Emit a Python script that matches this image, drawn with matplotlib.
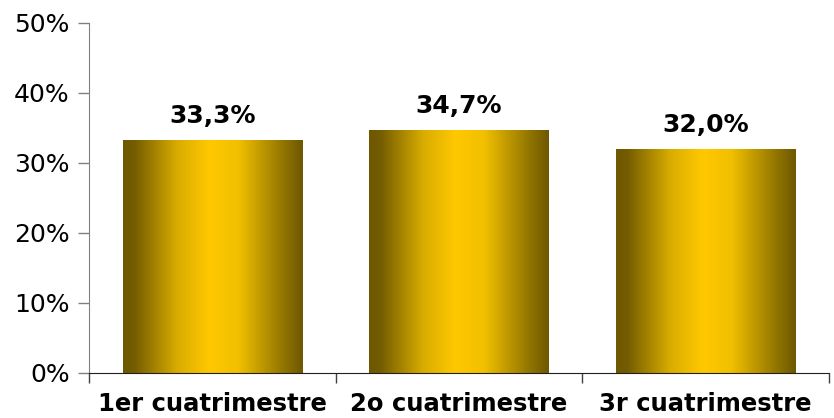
import matplotlib
matplotlib.use("Agg")
import matplotlib.pyplot as plt
import numpy as np
from matplotlib.colors import LinearSegmentedColormap
from matplotlib.ticker import FuncFormatter

# data
categories = ["1er cuatrimestre", "2o cuatrimestre", "3r cuatrimestre"]
values = [33.3, 34.7, 32.0]
value_labels = ["33,3%", "34,7%", "32,0%"]

plt.rcParams['font.family'] = ['DejaVu Sans']

fig = plt.figure(figsize=(8.34, 4.18), dpi=100)
ax = fig.add_axes([89 / 834, 45 / 418, 740 / 834, 350 / 418])

# gradient: dark olive at the sides, gold in the middle
gold = LinearSegmentedColormap.from_list(
    "gold", [(0.0, "#6e5800"), (0.06, "#735c00"), (0.3, "#d8ac00"),
             (0.48, "#ffc800"), (0.64, "#f2c000"), (0.9, "#8f7300"),
             (1.0, "#6e5800")])
grad = np.linspace(0, 1, 256).reshape(1, -1)

x = np.arange(len(categories))
bars = ax.bar(x, values, width=0.726, color="none", edgecolor="none")
for b in bars:
    im = ax.imshow(grad, cmap=gold, aspect="auto", interpolation="bicubic",
                   extent=[b.get_x(), b.get_x() + b.get_width(), 0, b.get_height()],
                   zorder=2)
    im.set_clip_path(b)

for xi, v, lab in zip(x, values, value_labels):
    ax.text(xi, v + 1.7, lab, ha="center", va="bottom",
            fontsize=18, fontweight="bold", color="black")

ax.set_xlim(-0.5, len(categories) - 0.5)
ax.set_ylim(0, 50)
ax.set_yticks(np.arange(0, 51, 10))
ax.yaxis.set_major_formatter(FuncFormatter(lambda v, p: f"{v:.0f}%"))
ax.tick_params(axis="y", labelsize=18, length=8, width=1, color="#808080", pad=6)

# category ticks sit between the bars
ax.set_xticks(x)
ax.set_xticklabels(categories, fontsize=17.5, fontweight="bold")
ax.set_xticks(np.arange(-0.5, len(categories) + 0.5, 1), minor=True)
ax.tick_params(axis="x", which="major", length=0, pad=14)
ax.tick_params(axis="x", which="minor", length=7, width=1, color="#404040")

for s in ["top", "right"]:
    ax.spines[s].set_visible(False)
ax.spines["left"].set_color("#808080")
ax.spines["bottom"].set_color("#202020")

fig.savefig("out.png", dpi=100)
